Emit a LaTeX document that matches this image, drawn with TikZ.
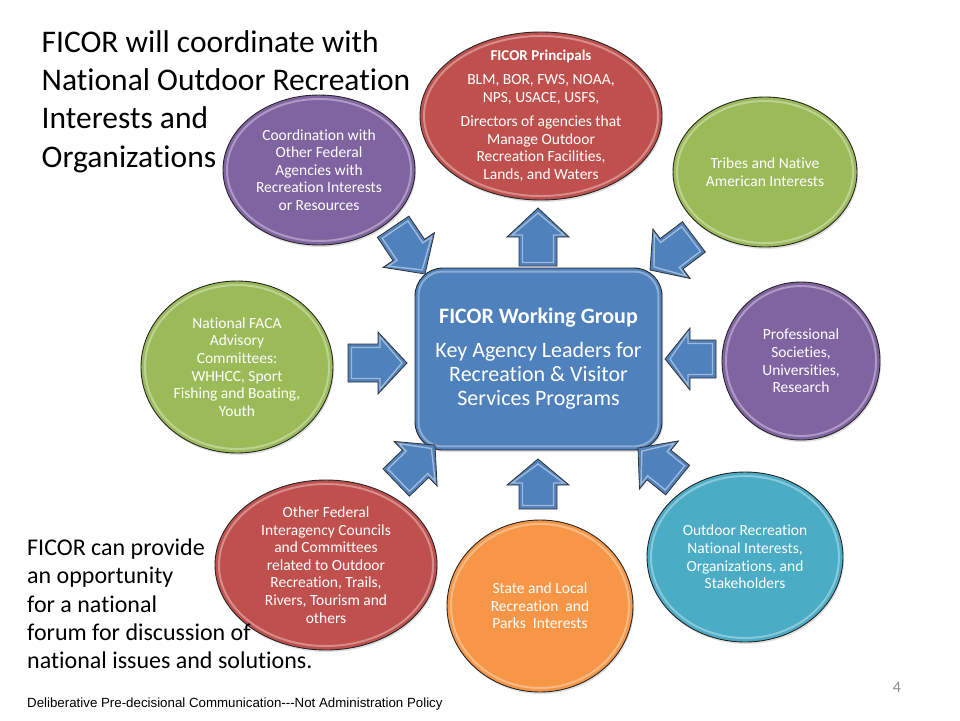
\documentclass[tikz,border=0pt]{standalone}
\usepackage{fontspec}
\setmainfont{Carlito}[Ligatures={TeX,CommonOff}]
\newfontfamily\arialfont{Liberation Sans}
\usetikzlibrary{shapes.geometric,shadows,calc}
\definecolor{cred}{HTML}{C0504D}
\definecolor{cgreen}{HTML}{9BBB59}
\definecolor{cpurple}{HTML}{8064A2}
\definecolor{cteal}{HTML}{4BACC6}
\definecolor{corange}{HTML}{F79646}
\definecolor{cblue}{HTML}{4F81BD}
\tikzset{
  bubble/.style={ellipse, draw=black!85, line width=0.9pt, inner sep=0pt,
    drop shadow={shadow xshift=1pt,shadow yshift=-2pt,opacity=.25}},
  bubbletext/.style={text=white, align=center, inner sep=0pt, font=\fontsize{15.5}{17.6}\selectfont},
  hlring/.style={draw=white, opacity=.35, line width=2pt},
  arrowbody/.style={fill=cblue, draw=black!80, line width=0.8pt, line join=miter},
  arrowhl/.style={draw=white, opacity=.45, line width=1.4pt},
  titleline/.style={anchor=base west, inner sep=0pt, font=\fontsize{31.5}{34}\selectfont},
  noteline/.style={anchor=base west, inner sep=0pt, font=\fontsize{24}{26}\selectfont},
}
\newcommand\bubble[7]{%
  \node[bubble, fill=#6, minimum width=#4*2pt, minimum height=#5*2pt] (#1) at (#2,#3) {};
  \draw[hlring] (#1.center) ellipse [x radius=#4-4, y radius=#5-4];
  \node[bubbletext] (#1-t) at (#1.center) {#7};
}
\newcommand\blockarrow[5]{%
  \begin{scope}[shift={(#1,#2)}, rotate=#3]
    \draw[arrowbody] (0,0) -- (-#5,31) -- (-#5,19) -- (-#4,19) -- (-#4,-19) -- (-#5,-19) -- (-#5,-31) -- cycle;
    \draw[arrowhl] (-5,0) -- (-#5+2,26) -- (-#5+2,15.5) -- (-#4+3.5,15.5) -- (-#4+3.5,-15.5) -- (-#5+2,-15.5) -- (-#5+2,-26) -- cycle;
  \end{scope}}
\begin{document}
\begin{tikzpicture}[x=1pt,y=-1pt]
\fill[white] (0,0) rectangle (960,720);
\useasboundingbox (0,0) rectangle (960,720);

% title
\node[titleline] (t1) at (41.5,52) {FICOR will coordinate with};
\node[titleline] (t2) at (41.5,90) {National Outdoor Recreation};
\node[titleline] (t3) at (41.5,128) {Interests and};
\node[titleline] (t4) at (41.5,167) {Organizations};

% bubbles
\bubble{prin}{541}{116}{121}{84}{cred}{{\bfseries\fontsize{15}{16}\selectfont FICOR Principals}\\[6pt]BLM, BOR, FWS, NOAA,\\NPS, USACE, USFS,\\[7pt]Directors of agencies that\\Manage Outdoor\\Recreation Facilities,\\Lands, and Waters}
\bubble{tribes}{765}{172}{92}{75}{cgreen}{Tribes and Native\\American Interests}
\bubble{coord}{319}{170}{96}{75}{cpurple}{Coordination with\\Other Federal\\Agencies with\\Recreation Interests\\or Resources}
\bubble{faca}{237}{367}{96}{86}{cgreen}{National FACA\\Advisory\\Committees:\\WHHCC, Sport\\Fishing and Boating,\\Youth}
\bubble{prof}{801}{361}{79}{79}{cpurple}{Professional\\Societies,\\Universities,\\Research}
\bubble{outd}{745}{557}{98}{85}{cteal}{Outdoor Recreation\\National Interests,\\Organizations, and\\Stakeholders}
\bubble{state}{540}{606}{93}{86}{corange}{State and Local\\Recreation\ \ and\\Parks\ \ Interests}
\bubble{other}{326}{565}{111}{85}{cred}{Other Federal\\Interagency Councils\\and Committees\\related to Outdoor\\Recreation, Trails,\\Rivers, Tourism and\\others}

% central box
\node[draw=black!85, line width=0.9pt, fill=cblue, rounded corners=28pt,
  minimum width=247pt, minimum height=182pt,
  drop shadow={shadow xshift=1pt,shadow yshift=-2pt,opacity=.25}] (wg) at (538.5,359) {};
\draw[hlring, rounded corners=24pt] ($(wg.south west)+(4,-4)$) rectangle ($(wg.north east)+(-4,4)$);
\node[text=white, align=center, inner sep=0pt, font=\fontsize{22}{24}\selectfont] (wg-t) at (wg.center)
  {\textbf{FICOR Working Group}\\[10pt]Key Agency Leaders for\\Recreation \& Visitor\\Services Programs};

% block arrows
\blockarrow{538}{208}{90}{58}{29}
\blockarrow{538}{459}{90}{50}{26}
\blockarrow{407}{363}{0}{59}{29}
\blockarrow{665}{359}{180}{51}{25}
\blockarrow{425}{274}{-56}{57}{29}
\blockarrow{650}{270}{-143}{55}{27}
\blockarrow{435}{445}{44}{54}{27}
\blockarrow{638}{448}{141}{51}{27}

% bottom-left note
\node[noteline] (b1) at (27,555) {FICOR can provide};
\node[noteline] (b2) at (27,583) {an opportunity};
\node[noteline] (b3) at (27,612) {for a national};
\node[noteline] (b4) at (27,640) {forum for discussion of};
\node[noteline] (b5) at (27,668) {national issues and solutions.};

% footer
\node[anchor=base west, inner sep=0pt, font=\arialfont\fontsize{13.3}{15}\selectfont] (foot) at (27,707)
  {Deliberative Pre-decisional Communication\mbox{-}\mbox{-}\mbox{-}Not Administration Policy};
\node[text=black!45, inner sep=0pt, font=\fontsize{16}{18}\selectfont] (pg) at (897,687) {4};
\end{tikzpicture}
\end{document}
